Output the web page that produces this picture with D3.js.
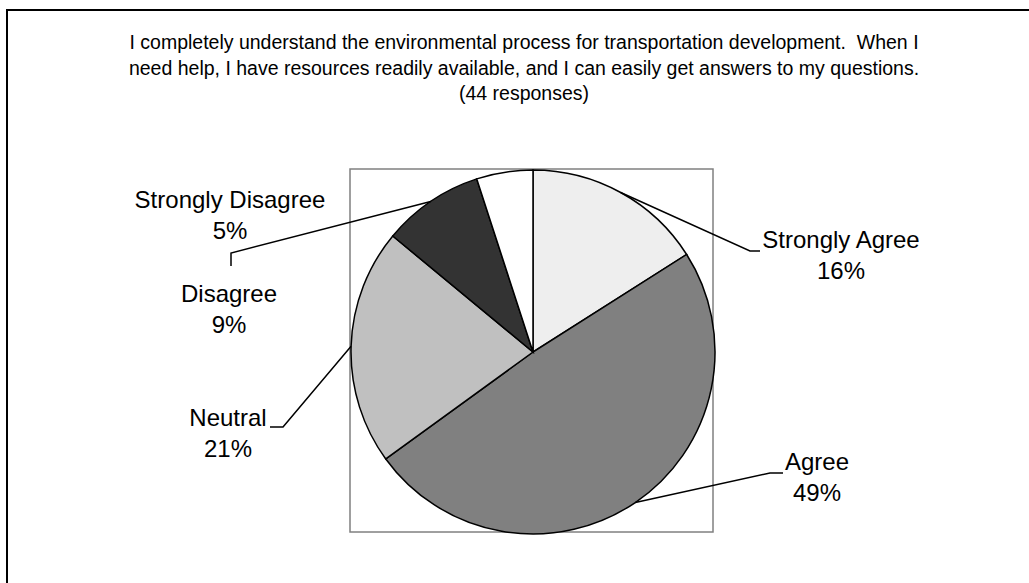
<!DOCTYPE html>
<html>
<head>
<meta charset="utf-8">
<script src="https://cdn.jsdelivr.net/npm/d3@7"></script>
<style>
  body { margin: 0; background: #fff; }
  svg { display: block; font-family: "Liberation Sans", Arial, sans-serif; }
  .title text { white-space: pre; }
</style>
</head>
<body>
<svg id="chart"></svg>
<script>
// survey answers, clockwise from 12 o'clock
const categories = ["Strongly Agree", "Agree", "Neutral", "Disagree", "Strongly Disagree"];
const percents = [16, 49, 21, 9, 5];
const fills = ["#eeeeee", "#808080", "#c0c0c0", "#333333", "#ffffff"];
const titleLines = [
  "I completely understand the environmental process for transportation development.  When I",
  "need help, I have resources readily available, and I can easily get answers to my questions.",
  "(44 responses)"
];

const width = 1029;
const height = 583;
const cx = 533, cy = 352, r = 182;

const svg = d3.select("#chart").attr("width", width).attr("height", height);

// outer chart border (runs off the right / bottom edge)
svg.append("rect")
  .attr("x", 7).attr("y", 10)
  .attr("width", 1040).attr("height", 600)
  .attr("fill", "none").attr("stroke", "#000").attr("stroke-width", 2);

// title
svg.append("g").attr("class", "title").selectAll("text")
  .data(titleLines)
  .join("text")
  .attr("x", 524)
  .attr("y", (d, i) => 49 + i * 25.5)
  .attr("text-anchor", "middle")
  .attr("font-size", 19.5)
  .attr("fill", "#000")
  .text(d => d);

// plot area box
svg.append("rect")
  .attr("x", 350).attr("y", 169)
  .attr("width", 363).attr("height", 363)
  .attr("fill", "none").attr("stroke", "#808080").attr("stroke-width", 1.5);

const pie = d3.pie().sort(null).value(d => d)(percents);
const arc = d3.arc().innerRadius(0).outerRadius(r);

const g = svg.append("g").attr("transform", `translate(${cx},${cy})`);
g.selectAll("path")
  .data(pie)
  .join("path")
  .attr("d", arc)
  .attr("fill", (d, i) => fills[i])
  .attr("stroke", "#000")
  .attr("stroke-width", 1.5);

// label placement (centre x, first baseline) per slice
const labelPos = [[841, 248], [817, 470], [228, 426], [229, 302], [230, 208]];
// leader: elbow point and end point, null when none is drawn
const leaders = [
  [[750, 251], [760, 251]],
  [[770, 473], [783, 473]],
  [[283, 427], [270, 427]],
  [[231, 253], [231, 266]],
  null
];

const labels = svg.append("g");
pie.forEach((d, i) => {
  const [lx, ly] = labelPos[i];
  const t = labels.append("text")
    .attr("text-anchor", "middle")
    .attr("font-size", 24)
    .attr("fill", "#000");
  t.append("tspan").attr("x", lx).attr("y", ly).text(categories[i]);
  t.append("tspan").attr("x", lx).attr("y", ly + 31).text(percents[i] + "%");

  if (leaders[i]) {
    const mid = (d.startAngle + d.endAngle) / 2;
    const start = [cx + r * Math.sin(mid), cy - r * Math.cos(mid)];
    svg.append("polyline")
      .attr("points", [start, leaders[i][0], leaders[i][1]].map(p => p.join(",")).join(" "))
      .attr("fill", "none")
      .attr("stroke", "#000")
      .attr("stroke-width", 1.5);
  }
});
</script>
</body>
</html>
